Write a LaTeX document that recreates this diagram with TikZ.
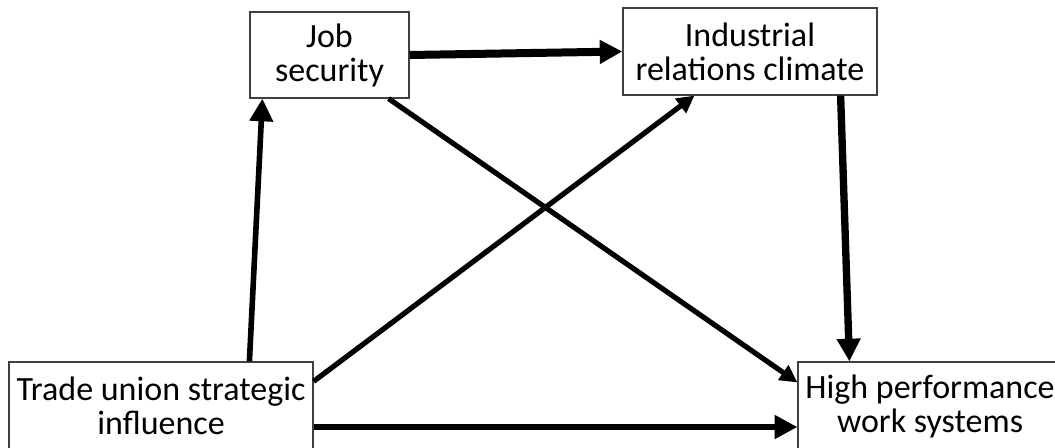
\documentclass[tikz,border=0pt]{standalone}
\usepackage{fontspec}
\setmainfont{Carlito}
\usetikzlibrary{arrows.meta,calc}
\begin{document}
\begin{tikzpicture}[x=0.75pt,y=-0.75pt,
  box/.style={draw=black!75,line width=0.9pt,fill=white,align=center,inner sep=0pt,
    font=\fontsize{25.5}{25.5}\selectfont},
  bigarr/.style={line width=#1,-{Triangle[length=17pt,width=17pt]}},
  smallarr/.style={line width=#1,-{Triangle[length=13pt,width=13pt]}}]
\useasboundingbox (0,0) rectangle (1055,447);
\node[box,minimum width=159*0.75pt,minimum height=86*0.75pt] (job) at (329.5,55) {Job\\security};
\node[box,minimum width=254*0.75pt,minimum height=87*0.75pt] (irc) at (750,51.5) {Industrial\\relations climate};
\node[box,minimum width=304*0.75pt,minimum height=88*0.75pt] (tu) at (161,406) {Trade union strategic\\influence};
\node[box,minimum width=264*0.75pt,minimum height=88*0.75pt] (hp) at (930,406) {High performance\\work systems};
% connectors
\draw[bigarr=4.2pt] ([xshift=241*0.75pt]tu.north west) -- ([xshift=13*0.75pt]job.south west);
\draw[bigarr=6pt] (job.east) -- (irc.west);
\draw[bigarr=5.5pt] ([xshift=-37*0.75pt]irc.south east) -- ([xshift=52*0.75pt]hp.north west);
\draw[bigarr=4pt] ([yshift=-21*0.75pt]tu.east) -- ([yshift=-21*0.75pt]hp.west);
\draw[smallarr=3.9pt] ([yshift=-20*0.75pt]tu.north east) -- ([xshift=72*0.75pt]irc.south west);
\draw[smallarr=3.9pt] ([xshift=-21*0.75pt]job.south east) -- ([yshift=-21*0.75pt]hp.north west);
\end{tikzpicture}
\end{document}
